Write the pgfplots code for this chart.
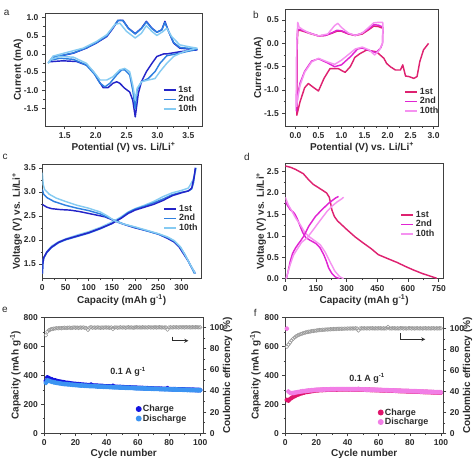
\documentclass[border=0pt]{standalone}
\usepackage{pgfplots}
\usepackage{pgfplotstable}
\pgfplotsset{compat=1.18}
\usepackage{fontspec}
\setmainfont{Liberation Sans}
\definecolor{txt}{HTML}{2B2B2B}
\definecolor{frm}{HTML}{404040}
\definecolor{bA}{HTML}{2424C8}
\definecolor{bB}{HTML}{2E80E0}
\definecolor{bC}{HTML}{86CBF2}
\definecolor{pA}{HTML}{DE2270}
\definecolor{pB}{HTML}{E024D2}
\definecolor{pC}{HTML}{F592F0}
\definecolor{eCh}{HTML}{1414E0}
\definecolor{eDis}{HTML}{3C94F2}
\definecolor{fCh}{HTML}{E0146C}
\definecolor{fDis}{HTML}{F27EE6}
\definecolor{ceg}{HTML}{9A9A9A}

\pgfplotsset{
 panel/.style={
  scale only axis, anchor=south west,
  axis line style={frm, line width=0.8pt},
  tick style={frm, line width=0.6pt},
  tick align=outside,
  major tick length=3pt, minor tick length=1.8pt,
  xtick pos=bottom, ytick pos=left,
  minor x tick num=1, minor y tick num=1,
  /pgf/number format/assume math mode=true,
  tick label style={font=\fontsize{8.5}{9}\selectfont\bfseries, text=txt},
  label style={font=\fontsize{10}{11}\selectfont\bfseries, text=txt},
  ylabel shift=-5pt, xlabel shift=-3pt,
  legend style={draw=none, fill=none, font=\fontsize{9}{10}\selectfont\bfseries, text=txt, row sep=-2.5pt},
  legend cell align=left,
  every axis plot/.append style={line width=1.45pt, line join=round},
 },
 onedec/.style={/pgf/number format/.cd, fixed, fixed zerofill, precision=1},
}

\pgfplotstableread{
n ch dis ce
1 362 348 92.5
2 386 365 95.8
3 380 362 97.2
4 375 358 97.9
5 371 355 98.4
6 367 352 98.7
7 364 350 98.9
8 361 348 99.2
9 358 346 99.0
10 356 344 99.3
11 354 343 99.1
12 352 341 99.4
13 350 340 99.6
14 348 339 99.3
15 347 338 99.5
16 345 337 99.7
17 344 336 99.4
18 343 335 99.6
19 341 334 99.8
20 340 333 99.5
21 339 332 99.7
22 338 331 99.4
23 337 330 99.8
24 336 330 99.6
25 335 329 99.9
26 334 328 99.5
27 333 328 99.3
28 332 327 97.6
29 331 326 99.6
30 336 326 100.1
31 330 325 99.5
32 329 325 99.8
33 328 324 99.6
34 328 323 99.9
35 327 323 99.7
36 326 322 99.5
37 326 322 99.8
38 325 321 99.6
39 324 321 99.9
40 324 320 99.7
41 323 320 99.8
42 323 319 99.5
43 322 319 99.9
44 327 318 98.4
45 321 318 99.7
46 320 317 99.9
47 320 317 99.6
48 319 316 99.8
49 319 316 100.0
50 318 315 99.7
51 318 315 99.9
52 317 314 99.6
53 317 314 99.8
54 316 314 100.0
55 316 313 99.7
56 315 313 99.9
57 315 312 99.6
58 314 312 99.8
59 314 311 100.0
60 313 311 99.8
61 313 310 99.9
62 312 310 99.7
63 312 310 100.0
64 311 309 99.8
65 311 309 99.9
66 311 308 99.7
67 310 308 100.1
68 310 308 99.8
69 309 307 99.9
70 309 307 99.7
71 308 306 100.0
72 308 306 99.8
73 308 306 99.9
74 307 305 100.1
75 307 305 99.8
76 306 305 99.9
77 306 304 99.7
78 306 304 99.9
79 311 304 97.8
80 305 303 99.9
81 305 303 100.0
82 304 303 99.8
83 304 302 100.1
84 304 302 99.9
85 303 302 100.0
86 303 301 99.8
87 303 301 100.1
88 302 301 99.9
89 302 300 100.0
90 302 300 99.8
91 301 300 100.1
92 301 299 99.9
93 301 299 100.0
94 300 299 99.8
95 300 298 100.1
96 300 298 99.9
97 299 298 100.0
98 299 297 100.1
99 299 297 99.9
100 298 297 100.0
}\tabE

\pgfplotstableread{
n ch dis ce
1 230 722 82.5
2 226 288 84.5
3 236 279 86.5
4 244 277 88.5
5 251 278 90.0
6 257 280 91.3
7 262 282 92.4
8 267 284 93.3
9 271 286 94.0
10 275 288 94.6
11 278 290 95.1
12 281 291 95.6
13 284 292 96.0
14 286 294 96.4
15 288 295 96.7
16 290 296 97.0
17 292 297 97.3
18 293 298 97.5
19 295 299 97.7
20 296 300 97.9
21 297 300 98.1
22 298 301 98.3
23 299 301 98.4
24 299 302 98.6
25 300 302 98.7
26 300 303 98.8
27 301 303 98.9
28 301 303 99.0
29 301 304 99.1
30 302 304 99.2
31 302 304 99.3
32 302 304 99.3
33 302 305 99.4
34 303 305 99.5
35 303 305 99.5
36 303 305 99.6
37 303 305 99.6
38 303 305 99.7
39 303 305 99.7
40 303 305 99.8
41 303 305 99.8
42 303 304 99.9
43 302 304 99.8
44 302 304 99.9
45 302 304 100.0
46 302 304 99.9
47 304 306 98.0
48 302 303 99.9
49 301 303 100.0
50 301 303 99.9
51 301 302 100.0
52 300 302 99.9
53 300 302 100.0
54 300 301 99.9
55 299 301 100.0
56 299 301 100.1
57 299 300 99.9
58 298 300 100.0
59 298 300 99.9
60 298 299 100.0
61 297 299 100.1
62 297 298 99.9
63 296 298 100.0
64 296 298 99.9
65 296 297 100.0
66 295 297 101.3
67 295 296 100.0
68 294 296 99.9
69 294 296 100.0
70 294 295 100.1
71 293 295 99.9
72 293 294 100.0
73 292 294 99.9
74 292 294 100.0
75 291 293 100.1
76 291 293 99.9
77 291 292 100.0
78 290 292 99.9
79 290 292 100.0
80 289 291 100.1
81 289 291 99.9
82 288 290 100.0
83 288 290 99.9
84 288 290 100.0
85 287 289 100.1
86 287 289 99.9
87 286 288 100.0
88 286 288 99.9
89 285 287 100.0
90 285 287 100.1
91 285 287 99.9
92 284 286 100.0
93 284 286 99.9
94 283 285 100.0
95 283 285 100.1
96 282 284 99.9
97 282 284 100.0
98 282 284 99.9
99 281 283 100.0
100 281 283 100.0
}\tabF

\begin{document}
\begin{tikzpicture}
\path[use as bounding box] (0pt,0pt) rectangle (474pt,460pt);

% ---------------- (a) ----------------
\begin{axis}[panel, at={(45pt,334pt)}, width=157pt, height=113pt,
  xmin=1.18, xmax=3.72, ymin=-1.99, ymax=1.13,
  xtick={1.5,2,2.5,3,3.5}, ytick={-1.5,-1,-0.5,0,0.5,1},
  xticklabel style={onedec}, yticklabel style={onedec},
  xlabel={Potential (V) vs. Li/Li\textsuperscript{+}}, ylabel={Current (mA)},
  ylabel shift=-6pt,
  legend style={at={(0.73,0.39)}, anchor=north west},
  legend image code/.code={\draw[#1] (0pt,0pt) -- (12pt,0pt);}]
\addplot[bA] coordinates {(1.26,-0.21) (1.31,-0.09) (1.42,-0.06) (1.64,0.02) (1.85,0.16) (2.01,0.3) (2.18,0.48) (2.28,0.71) (2.36,0.92) (2.44,0.93) (2.53,0.71) (2.64,0.56) (2.74,0.71) (2.82,0.9) (2.91,0.71) (2.99,0.6) (3.07,0.67) (3.12,0.9) (3.18,0.62) (3.26,0.3) (3.36,0.16) (3.53,0.13) (3.64,0.11) (3.5,0.09) (3.36,0.06) (3.15,0.0) (3.1,0.0) (2.99,-0.07) (2.91,-0.26) (2.82,-0.49) (2.74,-0.77) (2.69,-1.09) (2.64,-1.74) (2.6,-1.28) (2.55,-1.05) (2.47,-0.95) (2.39,-0.81) (2.34,-0.77) (2.28,-0.81) (2.2,-0.93) (2.12,-0.93) (2.04,-0.72) (1.96,-0.49) (1.85,-0.31) (1.69,-0.21) (1.47,-0.19) (1.31,-0.21) (1.26,-0.21)};
\addlegendentry{1st}
\addplot[bB] coordinates {(1.23,-0.25) (1.3,-0.1) (1.42,-0.05) (1.64,0.03) (1.85,0.17) (2.01,0.31) (2.18,0.5) (2.28,0.73) (2.36,0.93) (2.44,0.92) (2.53,0.7) (2.64,0.55) (2.74,0.7) (2.82,0.88) (2.91,0.7) (2.99,0.6) (3.07,0.66) (3.12,0.87) (3.18,0.62) (3.26,0.32) (3.36,0.18) (3.53,0.15) (3.64,0.13) (3.36,0.02) (3.15,-0.05) (3.04,-0.26) (2.96,-0.49) (2.85,-0.68) (2.74,-0.77) (2.67,-1.0) (2.64,-1.51) (2.6,-1.0) (2.55,-0.58) (2.47,-0.44) (2.42,-0.44) (2.34,-0.58) (2.23,-0.81) (2.15,-0.91) (2.07,-0.81) (1.99,-0.58) (1.85,-0.31) (1.64,-0.15) (1.42,-0.12) (1.28,-0.17) (1.23,-0.25)};
\addlegendentry{2nd}
\addplot[bC] coordinates {(1.23,-0.26) (1.31,-0.06) (1.53,0.04) (1.8,0.16) (2.01,0.34) (2.18,0.53) (2.31,0.81) (2.39,0.85) (2.5,0.62) (2.64,0.44) (2.74,0.57) (2.82,0.78) (2.91,0.62) (2.99,0.51) (3.09,0.62) (3.15,0.71) (3.23,0.48) (3.36,0.25) (3.53,0.19) (3.64,0.16) (3.42,0.06) (3.26,-0.07) (3.15,-0.26) (3.04,-0.49) (2.96,-0.68) (2.85,-0.72) (2.74,-0.77) (2.67,-0.95) (2.64,-1.28) (2.6,-0.86) (2.55,-0.49) (2.47,-0.4) (2.39,-0.44) (2.28,-0.63) (2.18,-0.72) (2.07,-0.72) (1.99,-0.54) (1.85,-0.26) (1.64,-0.09) (1.42,-0.07) (1.28,-0.15) (1.23,-0.26)};
\addlegendentry{10th}
\end{axis}

% ---------------- (b) ----------------
\begin{axis}[panel, at={(285.3pt,334pt)}, width=153.4pt, height=116.7pt,
  xmin=-0.22, xmax=3.11, ymin=-1.77, ymax=0.73,
  xtick={0,0.5,...,3}, ytick={-1.5,-1,-0.5,0,0.5},
  xticklabel style={onedec}, yticklabel style={onedec},
  xlabel={Potential (V) vs. Li/Li\textsuperscript{+}}, ylabel={Current (mA)},
  ylabel shift=-6pt,
  legend style={at={(0.755,0.36)}, anchor=north west},
  legend image code/.code={\draw[#1] (0pt,0pt) -- (12pt,0pt);}]
\addplot[pA] coordinates {(2.89,0.0) (2.78,-0.14) (2.7,-0.39) (2.64,-0.71) (2.57,-0.75) (2.46,-0.71) (2.39,-0.7) (2.33,-0.46) (2.28,-0.57) (2.17,-0.57) (2.06,-0.5) (1.98,-0.43) (1.92,-0.32) (1.76,-0.18) (1.63,-0.16) (1.55,-0.14) (1.4,-0.22) (1.29,-0.3) (1.19,-0.5) (1.08,-0.62) (1.0,-0.58) (0.93,-0.54) (0.75,-0.54) (0.62,-0.75) (0.5,-1.02) (0.4,-0.95) (0.28,-0.86) (0.2,-0.95) (0.1,-1.25) (0.03,-1.54) (0.04,0.0) (0.05,0.28) (0.1,0.28) (0.2,0.25) (0.35,0.2) (0.5,0.16) (0.65,0.17) (0.8,0.22) (0.9,0.26) (1.0,0.26) (1.15,0.2) (1.3,0.17) (1.45,0.2) (1.6,0.3) (1.7,0.37) (1.8,0.36) (1.88,0.33)};
\addlegendentry{1st}
\addplot[pB] coordinates {(1.9,0.35) (1.89,0.0) (1.85,-0.1) (1.75,-0.2) (1.6,-0.15) (1.45,-0.1) (1.35,-0.12) (1.2,-0.28) (1.0,-0.46) (0.85,-0.5) (0.7,-0.42) (0.5,-0.33) (0.35,-0.38) (0.2,-0.6) (0.1,-0.85) (0.05,-1.1) (0.02,-1.45) (0.03,0.0) (0.05,0.3) (0.1,0.3) (0.2,0.26) (0.35,0.21) (0.5,0.16) (0.65,0.17) (0.8,0.23) (0.9,0.28) (1.0,0.27) (1.15,0.21) (1.3,0.17) (1.45,0.22) (1.6,0.32) (1.7,0.4) (1.8,0.39) (1.9,0.35)};
\addlegendentry{2nd}
\addplot[pC] coordinates {(1.9,0.45) (1.89,0.0) (1.82,-0.15) (1.72,-0.25) (1.6,-0.14) (1.45,-0.08) (1.3,-0.12) (1.2,-0.2) (1.0,-0.36) (0.85,-0.45) (0.7,-0.4) (0.5,-0.32) (0.35,-0.4) (0.2,-0.62) (0.1,-0.9) (0.02,-1.35) (0.03,0.0) (0.05,0.45) (0.08,0.35) (0.15,0.3) (0.3,0.22) (0.5,0.16) (0.7,0.2) (0.85,0.38) (0.92,0.43) (1.0,0.34) (1.15,0.22) (1.3,0.17) (1.45,0.22) (1.6,0.35) (1.7,0.44) (1.8,0.45) (1.9,0.45)};
\addlegendentry{10th}
\end{axis}

% ---------------- (c) ----------------
\begin{axis}[panel, at={(42.3pt,181.7pt)}, width=158.7pt, height=114.3pt,
  xmin=0, xmax=342, ymin=1.2, ymax=3.58,
  xtick={0,50,...,300}, ytick={1.5,2,2.5,3,3.5},
  yticklabel style={onedec},
  xlabel={Capacity (mAh g\textsuperscript{-1})}, ylabel={Voltage (V) vs. Li/Li\textsuperscript{+}},
  legend style={at={(0.745,0.676)}, anchor=north west},
  legend image code/.code={\draw[#1] (0pt,0pt) -- (12pt,0pt);}]
\addplot[bC, forget plot] coordinates {(0,1.3) (1,1.5) (3,1.62) (10,1.76) (20,1.87) (35,1.96) (50,2.02) (75,2.1) (100,2.17) (125,2.26) (150,2.37) (170,2.48) (185,2.58) (200,2.65) (220,2.72) (240,2.8) (260,2.9) (280,2.98) (300,3.03) (315,3.08) (325,3.25) (332,3.5)};
\addplot[bB, forget plot] coordinates {(0,1.3) (1,1.5) (3,1.62) (10,1.74) (20,1.84) (35,1.94) (50,2.0) (75,2.07) (100,2.14) (125,2.23) (150,2.34) (170,2.46) (185,2.57) (200,2.64) (220,2.7) (240,2.77) (260,2.85) (280,2.94) (300,2.99) (315,3.02) (322,3.06) (326,3.2) (330,3.5)};
\addplot[bA, forget plot] coordinates {(0,1.3) (1,1.5) (3,1.63) (10,1.75) (20,1.85) (35,1.95) (50,2.01) (75,2.08) (100,2.15) (125,2.24) (150,2.34) (170,2.45) (185,2.55) (200,2.62) (220,2.68) (240,2.74) (260,2.82) (280,2.92) (300,2.98) (315,3.02) (322,3.08) (327,3.3) (330,3.5)};
\addplot[bA] coordinates {(0,2.74) (3,2.72) (10,2.68) (20,2.65) (40,2.63) (60,2.62) (80,2.59) (100,2.55) (120,2.51) (135,2.48) (150,2.42) (165,2.36) (180,2.31) (200,2.25) (225,2.19) (250,2.12) (270,2.03) (285,1.95) (295,1.85) (305,1.7) (315,1.55) (322,1.42) (330,1.3)};
\addlegendentry{1st}
\addplot[bB] coordinates {(0,3.05) (3,2.95) (10,2.88) (25,2.8) (50,2.72) (75,2.66) (100,2.61) (125,2.54) (150,2.43) (175,2.33) (200,2.26) (225,2.19) (250,2.12) (270,2.05) (285,1.97) (297,1.85) (307,1.7) (315,1.55) (322,1.42) (328,1.3)};
\addlegendentry{2nd}
\addplot[bC] coordinates {(0,3.4) (2,3.15) (5,3.05) (15,2.95) (30,2.87) (50,2.8) (75,2.72) (100,2.66) (125,2.58) (140,2.5) (155,2.4) (175,2.33) (200,2.27) (225,2.2) (250,2.13) (270,2.06) (285,1.98) (298,1.85) (308,1.68) (318,1.5) (325,1.38) (330,1.3)};
\addlegendentry{10th}
\end{axis}

% ---------------- (d) ----------------
\begin{axis}[panel, at={(285.3pt,181.3pt)}, width=157.7pt, height=115.3pt,
  xmin=0, xmax=771, ymin=0, ymax=2.69,
  xtick={0,150,...,750}, ytick={0,0.5,...,2.5},
  yticklabel style={onedec},
  xlabel={Capacity (mAh g\textsuperscript{-1})}, ylabel={Voltage (V) vs. Li/Li\textsuperscript{+}},
  ylabel shift=-6pt,
  legend style={at={(0.71,0.622)}, anchor=north west},
  legend image code/.code={\draw[#1] (0pt,0pt) -- (12pt,0pt);}]
\addplot[pA] coordinates {(0,2.63) (25,2.6) (50,2.55) (88,2.45) (110,2.33) (137,2.2) (170,2.1) (202,2.0) (215,1.9) (222,1.75) (228,1.6) (240,1.45) (255,1.35) (300,1.15) (340,0.98) (382,0.83) (420,0.7) (455,0.56) (500,0.47) (546,0.38) (590,0.28) (628,0.2) (670,0.12) (709,0.06) (740,0.01)};
\addlegendentry{1st}
\addplot[pB] coordinates {(0,1.8) (12,1.7) (24,1.61) (40,1.55) (49,1.49) (60,1.38) (73,1.22) (85,1.08) (100,0.96) (120,0.9) (150,0.82) (170,0.72) (188,0.56) (200,0.42) (212,0.25) (228,0.12) (245,0.04) (265,0.0)};
\addlegendentry{2nd}
\addplot[pC] coordinates {(0,1.9) (15,1.72) (33,1.57) (50,1.42) (73,1.26) (95,1.08) (114,0.99) (140,0.9) (171,0.79) (195,0.62) (218,0.4) (242,0.18) (265,0.05) (285,0.0)};
\addlegendentry{10th}
\addplot[pB, forget plot] coordinates {(5,0.0) (8,0.05) (15,0.2) (24,0.4) (35,0.58) (49,0.71) (65,0.82) (73,0.87) (90,0.99) (114,1.22) (147,1.45) (179,1.61) (212,1.76) (245,1.88) (260,1.92)};
\addplot[pC, forget plot] coordinates {(3,0.0) (10,0.1) (24,0.33) (40,0.55) (57,0.68) (80,0.85) (106,0.95) (130,1.1) (155,1.26) (180,1.42) (204,1.57) (230,1.7) (253,1.79) (275,1.86) (285,1.9)};
\end{axis}

% ---------------- (e) ----------------
\begin{axis}[panel, at={(44.3pt,26.7pt)}, width=159pt, height=116pt,
  xmin=0, xmax=102, ymin=0, ymax=800,
  xtick={0,20,...,100}, ytick={0,200,...,800},
  xlabel={Cycle number}, ylabel={Capacity (mAh g\textsuperscript{-1})},
  ylabel shift=-4pt,
  legend style={at={(0.56,0.28)}, anchor=north west}]
\addlegendimage{only marks, mark=*, mark size=2.2pt, draw=eCh, fill=eCh}
\addlegendentry{Charge}
\addlegendimage{only marks, mark=*, mark size=2.2pt, draw=eDis, fill=eDis}
\addlegendentry{Discharge}
\addplot[only marks, mark=*, mark size=1.8pt, draw=eCh, fill=eCh, forget plot] table[x=n, y=ch] {\tabE};
\addplot[only marks, mark=*, mark size=1.8pt, draw=eDis, fill=eDis, forget plot] table[x=n, y=dis] {\tabE};
\node[font=\fontsize{9}{10}\selectfont\bfseries, text=txt] at (rel axis cs:0.526,0.53) {0.1 A g\textsuperscript{-1}};
\draw[txt, line width=0.8pt, -stealth] (rel axis cs:0.808,0.833) -- (rel axis cs:0.808,0.798) -- (rel axis cs:0.906,0.798);
\end{axis}
\begin{axis}[panel, at={(44.3pt,26.7pt)}, width=159pt, height=116pt,
  xmin=0, xmax=102, ymin=0, ymax=109.4,
  axis x line=none, axis y line*=right, ytick pos=right,
  ytick={0,20,...,100},
  ylabel={Coulombic efficency (\%)}, ylabel shift=-8pt]
\addplot[only marks, mark=o, mark size=1.9pt, draw=ceg, fill=white, mark options={line width=0.6pt, fill=white}] table[x=n, y=ce] {\tabE};
\end{axis}

% ---------------- (f) ----------------
\begin{axis}[panel, at={(285.3pt,26.7pt)}, width=158pt, height=116pt,
  xmin=0, xmax=101.5, ymin=0, ymax=800,
  xtick={0,20,...,100}, ytick={0,200,...,800},
  xlabel={Cycle number}, ylabel={Capacity (mAh g\textsuperscript{-1})},
  ylabel shift=-3pt,
  legend style={at={(0.57,0.25)}, anchor=north west}]
\addlegendimage{only marks, mark=*, mark size=2.2pt, draw=fCh, fill=fCh}
\addlegendentry{Charge}
\addlegendimage{only marks, mark=*, mark size=2.2pt, draw=fDis, fill=fDis}
\addlegendentry{Discharge}
\addplot[only marks, mark=*, mark size=1.8pt, draw=fCh, fill=fCh, forget plot] table[x=n, y=ch] {\tabF};
\addplot[only marks, mark=*, mark size=1.8pt, draw=fDis, fill=fDis, forget plot] table[x=n, y=dis] {\tabF};
\node[font=\fontsize{9}{10}\selectfont\bfseries, text=txt] at (rel axis cs:0.517,0.47) {0.1 A g\textsuperscript{-1}};
\draw[txt, line width=0.8pt, -stealth] (rel axis cs:0.728,0.862) -- (rel axis cs:0.728,0.81) -- (rel axis cs:0.886,0.81);
\end{axis}
\begin{axis}[panel, at={(285.3pt,26.7pt)}, width=158pt, height=116pt,
  xmin=0, xmax=101.5, ymin=0, ymax=110.5,
  axis x line=none, axis y line*=right, ytick pos=right,
  ytick={0,20,...,100},
  ylabel={Coulombic efficency (\%)}, ylabel shift=-8pt]
\addplot[only marks, mark=o, mark size=1.9pt, draw=ceg, fill=white, mark options={line width=0.6pt, fill=white}] table[x=n, y=ce] {\tabF};
\end{axis}

% panel letters
\node[anchor=center, font=\fontsize{10}{11}\selectfont, text=txt] at (6.7pt,447pt) {a};
\node[anchor=center, font=\fontsize{10}{11}\selectfont, text=txt] at (256pt,445pt) {b};
\node[anchor=center, font=\fontsize{10}{11}\selectfont, text=txt] at (5pt,303.3pt) {c};
\node[anchor=center, font=\fontsize{10}{11}\selectfont, text=txt] at (247pt,303.3pt) {d};
\node[anchor=center, font=\fontsize{10}{11}\selectfont, text=txt] at (5pt,150pt) {e};
\node[anchor=center, font=\fontsize{10}{11}\selectfont, text=txt] at (255.3pt,146.7pt) {f};
\end{tikzpicture}
\end{document}
